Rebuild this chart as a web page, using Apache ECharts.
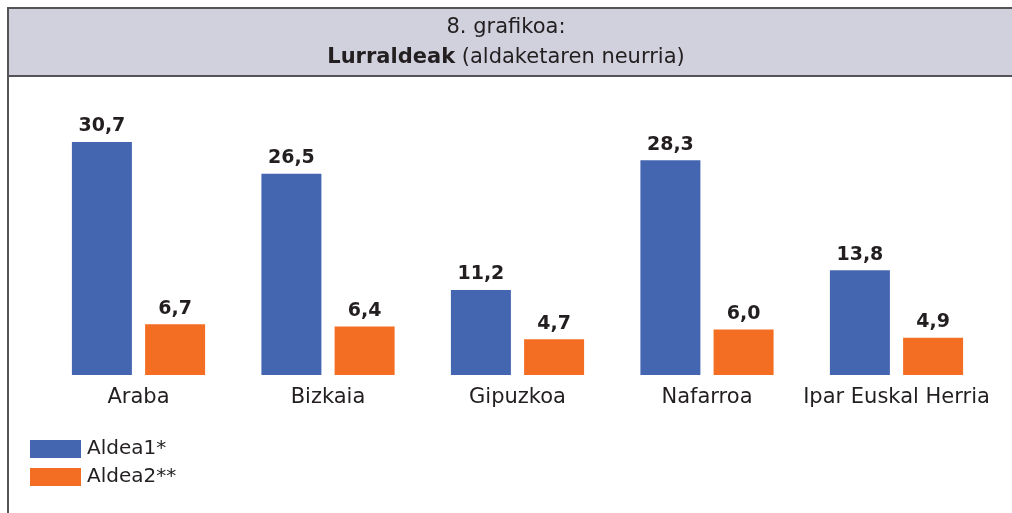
<!DOCTYPE html>
<html><head><meta charset="utf-8">
<script src="https://cdn.jsdelivr.net/npm/echarts@6/dist/echarts.min.js"></script>
<style>html,body{margin:0;padding:0;background:#fff}#c{width:1012px;height:513px}</style>
</head><body><div id="c"></div>
<script>
const categories = ['Araba', 'Bizkaia', 'Gipuzkoa', 'Nafarroa', 'Ipar Euskal Herria'];
const aldea1 = [30.7, 26.5, 11.2, 28.3, 13.8];
const aldea2 = [6.7, 6.4, 4.7, 6.0, 4.9];
const seriesNames = ['Aldea1*', 'Aldea2**'];

const FONT = '"DejaVu Sans", sans-serif';
const chart = echarts.init(document.getElementById('c'));
const fmt = p => p.value.toFixed(1).replace('.', ',');
const labelCfg = {show: true, position: 'top', distance: 6, formatter: fmt,
  fontFamily: FONT, fontWeight: 'bold', fontSize: 19, color: '#231F20'};
chart.setOption({
  animation: false,
  graphic: [
    {type: 'rect', shape: {x: 8, y: 8, width: 1010, height: 68},
     style: {fill: '#D1D0DD', stroke: '#555358', lineWidth: 2}, z: 0},
    {type: 'line', shape: {x1: 8, y1: 8, x2: 8, y2: 520},
     style: {stroke: '#555358', lineWidth: 2}, z: 1}
  ],
  title: {
    text: '8. grafikoa:\n{b|Lurraldeak} (aldaketaren neurria)',
    left: 'center', top: 13, padding: 0,
    textStyle: {fontFamily: FONT, fontSize: 21, fontWeight: 'normal', color: '#231F20', lineHeight: 30,
      rich: {b: {fontFamily: FONT, fontSize: 21, fontWeight: 'bold', color: '#231F20', lineHeight: 30}}}
  },
  legend: {
    orient: 'vertical', left: 30, top: 439, padding: 0, itemWidth: 51, itemHeight: 18, itemGap: 8,
    icon: 'rect', data: seriesNames,
    textStyle: {fontFamily: FONT, fontSize: 20, color: '#231F20', padding: [0, 0, 0, 1]}
  },
  grid: {left: 43.75, right: 20.75, top: 71.4, height: 303.6, containLabel: false},
  xAxis: {
    type: 'category', data: categories,
    axisLine: {show: false}, axisTick: {show: false},
    axisLabel: {fontFamily: FONT, fontSize: 21, color: '#231F20', margin: 12, interval: 0}
  },
  yAxis: {type: 'value', min: 0, max: 40, show: false, splitLine: {show: false}},
  series: [
    {name: seriesNames[0], type: 'bar', data: aldea1, barWidth: 60, barGap: '22%',
     itemStyle: {color: '#4466B0'}, label: labelCfg},
    {name: seriesNames[1], type: 'bar', data: aldea2, barWidth: 60, barGap: '22%',
     itemStyle: {color: '#F36E22'}, label: labelCfg}
  ]
});
</script></body></html>
